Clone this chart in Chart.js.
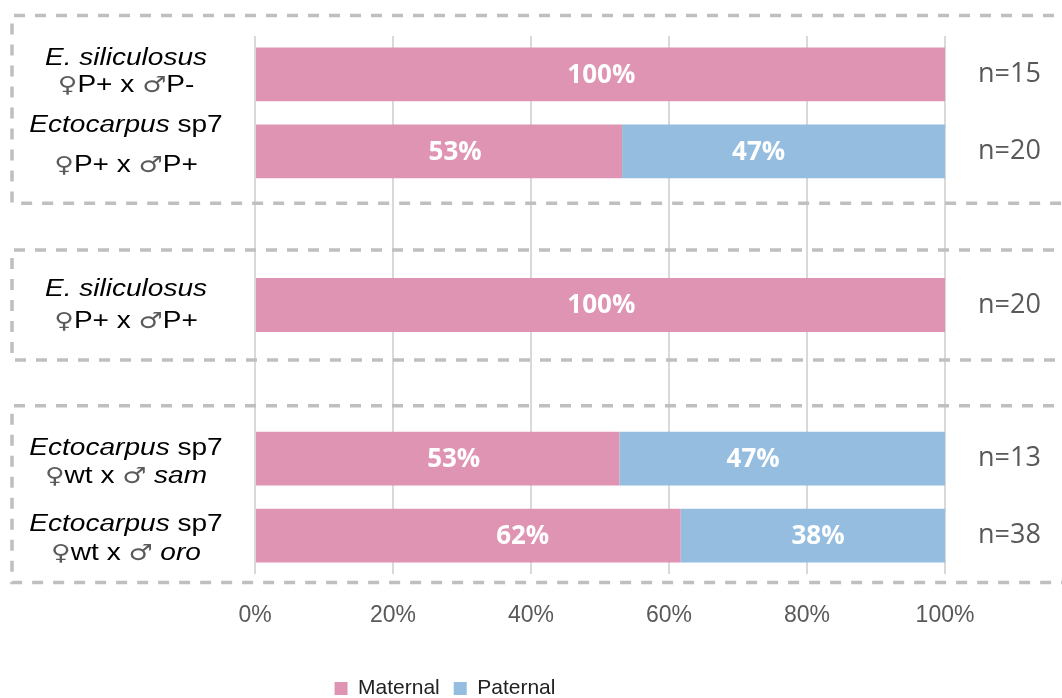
<!DOCTYPE html>
<html><head><meta charset="utf-8">
<script src="https://cdn.jsdelivr.net/npm/chart.js@4.4.1/dist/chart.umd.min.js"></script>
<style>html,body{margin:0;padding:0;background:#fff;}#wrap{width:1062px;height:698px;position:relative;}</style>
</head><body><div id="wrap"><canvas id="c" width="1062" height="698"></canvas></div>
<script>
// ---- data ----
const categories = ['E. siliculosus ♀P+ x ♂P-', 'Ectocarpus sp7 ♀P+ x ♂P+', '', 'E. siliculosus ♀P+ x ♂P+', '', 'Ectocarpus sp7 ♀wt x ♂sam', 'Ectocarpus sp7 ♀wt x ♂oro'];
const maternal = [100, 53.2, null, 100, null, 52.8, 61.7];
const paternal = [0, 46.8, null, 0, null, 47.2, 38.3];
const sampleSizes = ['n=15', 'n=20', '', 'n=20', '', 'n=13', 'n=38'];
const xTickValues = [0, 20, 40, 60, 80, 100];
const seriesNames = ['Maternal', 'Paternal'];
// label text runs: i = italic, n = normal, s = sex symbol
const labelLine1 = [
  [['E. siliculosus', 'i']],
  [['Ectocarpus', 'i'], [' sp7', 'n']],
  null,
  [['E. siliculosus', 'i']],
  null,
  [['Ectocarpus', 'i'], [' sp7', 'n']],
  [['Ectocarpus', 'i'], [' sp7', 'n']]
];
const labelLine2 = [
  [['♀', 's'], ['P+ x ', 'n'], ['♂', 's'], ['P-', 'n']],
  [['♀', 's'], ['P+ x ', 'n'], ['♂', 's'], ['P+', 'n']],
  null,
  [['♀', 's'], ['P+ x ', 'n'], ['♂', 's'], ['P+', 'n']],
  null,
  [['♀', 's'], ['wt x ', 'n'], ['♂', 's'], [' sam', 'i']],
  [['♀', 's'], ['wt x ', 'n'], ['♂', 's'], [' oro', 'i']]
];
const groups = [[0, 1], [3, 3], [5, 6]];

// ---- styling / layout (not data) ----
const COLORS = ['#E094B4', '#94BDE0'];
const valueLabelAt = [[50.2, 29.0, null, 50.2, null, 28.8, 38.8], [null, 73.0, null, null, null, 72.2, 81.6]];
const lineBaselines = [[-9, 18], [-19, 21], null, [-9, 23], null, [-4, 24], [-5, 24]];
const boxOffsets = [[-59, 52], [-55, 55], [-53, 47]];
const GRAY_FONT = '"Liberation Sans", Arial, sans-serif';

function drawRuns(ctx, runs, cx, baseline, size, sx) {
  const fam = '"Liberation Sans", Arial, sans-serif';
  const fontFor = t => t === 's' ? (size - 1) + 'px "DejaVu Sans", sans-serif' : (t === 'i' ? 'italic ' : '') + size + 'px ' + fam;
  let w = 0;
  const ws = runs.map(r => { ctx.font = fontFor(r[1]); const m = ctx.measureText(r[0]).width; w += m; return m; });
  ctx.save();
  ctx.translate(cx, baseline);
  ctx.scale(sx, 1);
  let x = -w / 2;
  ctx.textAlign = 'left';
  ctx.textBaseline = 'alphabetic';
  runs.forEach((r, k) => {
    ctx.font = fontFor(r[1]);
    ctx.fillStyle = r[1] === 's' ? '#5a5a5a' : '#000';
    ctx.fillText(r[0], x, 0);
    x += ws[k];
  });
  ctx.restore();
}

const decor = {
  id: 'decor',
  afterLayout(chart) {
    const lg = chart.legend;
    if (lg) { const dx = -86; lg.left += dx; lg.right += dx; }
  },
  afterDatasetsDraw(chart) {
    const ctx = chart.ctx, xs = chart.scales.x;
    ctx.save();
    ctx.fillStyle = '#fff';
    ctx.font = 'bold 26px "Open Sans", sans-serif';
    ctx.textAlign = 'center';
    ctx.textBaseline = 'middle';
    chart.data.datasets.forEach((ds, di) => {
      const meta = chart.getDatasetMeta(di);
      meta.data.forEach((el, i) => {
        const v = ds.data[i];
        if (v == null || v <= 0) return;
        const pos = valueLabelAt[di][i];
        const x = pos == null ? el.base + (el.x - el.base) / 2 : xs.getPixelForValue(pos);
        ctx.fillText(Math.round(v) + '%', x, el.y + 1);
      });
    });
    ctx.restore();
  },
  afterDraw(chart) {
    const ctx = chart.ctx, ys = chart.scales.y;
    categories.forEach((c, i) => {
      if (!labelLine1[i]) return;
      const cy = ys.getPixelForValue(i);
      drawRuns(ctx, labelLine1[i], 126, cy + lineBaselines[i][0], 23, 1.22);
      drawRuns(ctx, labelLine2[i], 126, cy + lineBaselines[i][1], 23, 1.22);
    });
    ctx.save();
    ctx.strokeStyle = '#BFBFBF';
    ctx.lineWidth = 3.5;
    ctx.setLineDash([11, 10]);
    groups.forEach((g, k) => {
      const top = ys.getPixelForValue(g[0]) + boxOffsets[k][0];
      const bot = ys.getPixelForValue(g[1]) + boxOffsets[k][1];
      ctx.beginPath();
      ctx.moveTo(1075, top); ctx.lineTo(12, top); ctx.lineTo(12, bot); ctx.lineTo(1075, bot);
      ctx.stroke();
    });
    ctx.restore();
  }
};

new Chart(document.getElementById('c'), {
  type: 'bar',
  data: {
    labels: categories,
    datasets: [
      { label: seriesNames[0], data: maternal, backgroundColor: COLORS[0], borderWidth: 0, barPercentage: 0.7, categoryPercentage: 1, yAxisID: 'y' },
      { label: seriesNames[1], data: paternal, backgroundColor: COLORS[1], borderWidth: 0, barPercentage: 0.7, categoryPercentage: 1, yAxisID: 'y' }
    ]
  },
  options: {
    indexAxis: 'y',
    responsive: false,
    animation: false,
    layout: { padding: { top: 36, left: 0, right: 0, bottom: -11 } },
    scales: {
      x: {
        stacked: true, min: 0, max: 100,
        afterBuildTicks: s => { s.ticks = xTickValues.map(v => ({ value: v })); },
        ticks: { callback: v => v + '%', color: '#595959', font: { family: GRAY_FONT, size: 23 }, padding: 28, maxRotation: 0 },
        grid: { color: '#D9D9D9', lineWidth: 2, drawTicks: false },
        border: { display: false },
        afterFit: s => { s.height = 90; }
      },
      y: {
        stacked: true, position: 'left',
        grid: { display: false }, border: { display: false },
        ticks: { display: false },
        afterFit: s => { s.width = 255; }
      },
      yR: {
        type: 'category', labels: sampleSizes, position: 'right', offset: true,
        grid: { display: true, drawOnChartArea: false, drawTicks: true, tickLength: 33, color: 'rgba(0,0,0,0)' },
        border: { display: false },
        ticks: { autoSkip: false, padding: 0, color: '#595959', font: { family: '"Open Sans", sans-serif', size: 27 } },
        afterFit: s => { s.width = 117; }
      }
    },
    plugins: {
      legend: {
        position: 'bottom',
        labels: { boxWidth: 13, boxHeight: 13, color: '#222', padding: 14, font: { family: GRAY_FONT, size: 21 } }
      },
      tooltip: { enabled: false }
    }
  },
  plugins: [decor]
});
</script>
</body></html>
